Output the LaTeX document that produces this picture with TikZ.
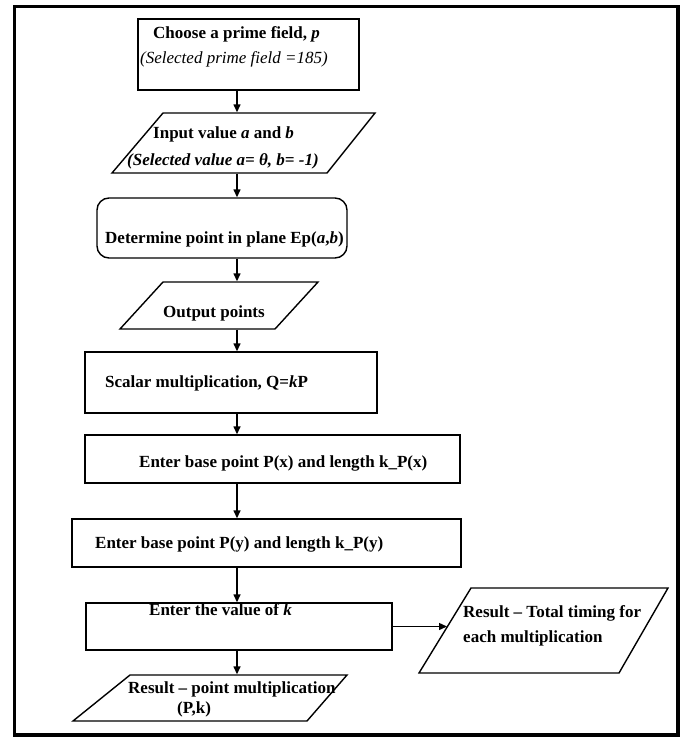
\documentclass[tikz,border=0pt]{standalone}
\usepackage{fontspec}
\setmainfont{Liberation Serif}
\usetikzlibrary{arrows.meta}
\begin{document}
\begin{tikzpicture}[x=1pt,y=-1pt,
  shp/.style={draw, line width=1.4pt, inner sep=0pt},
  box/.style={shp, rectangle},
  rbox/.style={shp, rectangle, rounded corners=12pt},
  ghost/.style={rectangle, inner sep=0pt, outer sep=0.7pt},
  txt/.style={anchor=base west, inner sep=0pt,
     font=\fontsize{17}{19}\selectfont\bfseries},
  arr/.style={line width=1.4pt, -{Triangle[length=8pt,width=7pt]}}]
\useasboundingbox (0,0) rectangle (688,739);
\draw[line width=3.5pt] (14.5,6.5) rectangle (678,735);

% shapes
\node[box, minimum width=221pt, minimum height=71pt] (b1) at (248.5,54.5) {};
\draw[shp, line join=miter] (112,173) -- (163,113) -- (375,113) -- (327,173) -- cycle;
\node[ghost, minimum width=263pt, minimum height=60pt] (p2) at (243.5,143) {};
\node[rbox, minimum width=250pt, minimum height=60pt] (r3) at (222,228) {};
\draw[shp] (120,329) -- (163,282) -- (318,282) -- (275,329) -- cycle;
\node[ghost, minimum width=198pt, minimum height=47pt] (p4) at (219,305.5) {};
\node[box, minimum width=292pt, minimum height=61pt] (b5) at (231,382.5) {};
\node[box, minimum width=375pt, minimum height=48pt] (b6) at (272.5,459) {};
\node[box, minimum width=389pt, minimum height=48pt] (b7) at (266.5,543) {};
\node[box, minimum width=306pt, minimum height=47pt] (b8) at (239,626.5) {};
\draw[shp] (419,673) -- (471,588) -- (668,588) -- (619,673) -- cycle;
\node[ghost, minimum width=249pt, minimum height=85pt] (p9) at (543.5,630.5) {};
\coordinate (p9l) at (447,626.5);
\draw[shp] (73,721) -- (130,675) -- (347,675) -- (307,721) -- cycle;
\node[ghost, minimum width=274pt, minimum height=46pt] (p10) at (210,698) {};

\coordinate (spine) at (237,0);

% texts
\node[txt] (t1a) at (153,38) {Choose a prime field, \textit{p}};
\node[txt, font=\fontsize{17}{19}\selectfont\mdseries\itshape] (t1b) at (140,63) {(Selected prime field =185)};
\node[txt] (t2a) at (153,138) {Input value \textit{a} and \textit{b}};
\node[txt, font=\fontsize{17}{19}\selectfont\bfseries\itshape] (t2b) at (127,165) {(Selected value a= θ, b= -1)};
\node[txt] (t3) at (105,243) {Determine point in plane Ep(\textit{a},\textit{b})};
\node[txt] (t4) at (163,317) {Output points};
\node[txt] (t5) at (105,387) {Scalar multiplication, Q=\textit{k}P};
\node[txt] (t6) at (139,467) {Enter base point P(x) and length k\_P(x)};
\node[txt] (t7) at (95,548) {Enter base point P(y) and length k\_P(y)};
\node[txt] (t8) at (149,615) {Enter the value of \textit{k}};
\node[txt] (t9a) at (463,617) {Result – Total timing for};
\node[txt] (t9b) at (463,642) {each multiplication};
\node[txt] (t10a) at (128,693) {Result – point multiplication};
\node[txt] (t10b) at (177,713) {(P,k)};

% connectors
\draw[arr] (b1.south -| spine) -- (p2.north -| spine);
\draw[arr] (p2.south -| spine) -- (r3.north -| spine);
\draw[arr] (r3.south -| spine) -- (p4.north -| spine);
\draw[arr] (p4.south -| spine) -- (b5.north -| spine);
\draw[arr] (b5.south -| spine) -- (b6.north -| spine);
\draw[arr] (b6.south -| spine) -- (b7.north -| spine);
\draw[arr] (b7.south -| spine) -- (b8.north -| spine);
\draw[arr] (b8.south -| spine) -- (p10.north -| spine);
\draw[arr] (b8.east) -- (p9l);
\end{tikzpicture}
\end{document}
